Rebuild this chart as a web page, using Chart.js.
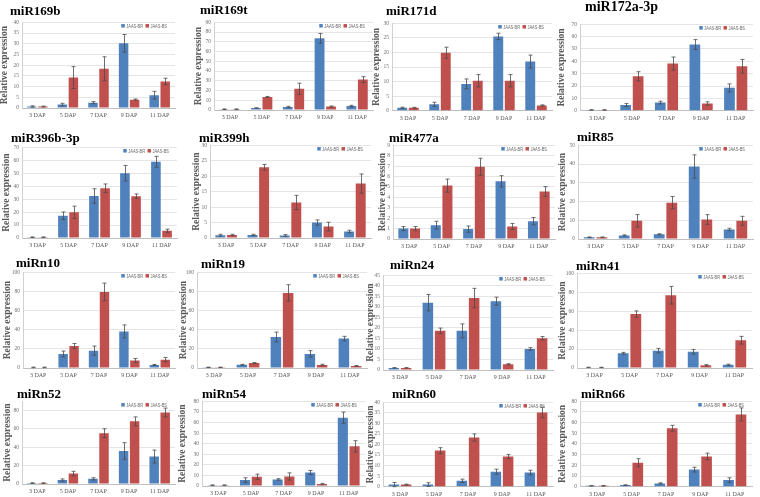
<!DOCTYPE html>
<html><head><meta charset="utf-8">
<script src="https://cdn.jsdelivr.net/npm/chart.js@4.4.1/dist/chart.umd.min.js"></script>
<style>
html,body{margin:0;padding:0;background:#fff;}
body{width:760px;height:497px;position:relative;overflow:hidden;}
canvas{position:absolute;}
.t{position:absolute;font-family:"Liberation Serif",serif;font-weight:bold;color:#000;white-space:nowrap;line-height:1;}
</style></head><body>
<script>
// ---- data ----
const categories = ['3 DAP', '5 DAP', '7 DAP', '9 DAP', '11 DAP'];
const seriesNames = ['JAAS-BR', 'JAAS-BS'];
const panelTitles = ['miR169b','miR169t','miR171d','miR172a-3p','miR396b-3p','miR399h','miR477a','miR85',
                     'miRn10','miRn19','miRn24','miRn41','miRn52','miRn54','miRn60','miRn66'];
const yMax  = [40, 90, 30, 70, 70, 30, 9, 50, 100, 100, 45, 100, 90, 80, 40, 80];
const yStep = [5, 10, 5, 10, 10, 5, 1, 5, 10, 10, 5, 10, 10, 10, 5, 10];

const br_miR169b = [0.7, 1.6, 2.5, 30.2, 6.0],   brErr_miR169b = [0.3, 0.6, 0.5, 4.1, 1.8];
const bs_miR169b = [0.7, 14.2, 18.3, 3.9, 12.4], bsErr_miR169b = [0.2, 5.1, 5.6, 0.3, 1.5];
const br_miR169t = [0.8, 2.0, 3.0, 73.6, 4.0],   brErr_miR169t = [0.3, 0.3, 0.8, 5.0, 0.8];
const bs_miR169t = [0.8, 13.4, 21.8, 3.5, 31.2], bsErr_miR169t = [0.3, 0.5, 5.7, 0.6, 3.0];
const br_miR171d = [1.0, 2.2, 9.2, 25.5, 16.9],  brErr_miR171d = [0.2, 0.7, 1.7, 1.1, 2.2];
const bs_miR171d = [1.0, 19.9, 10.3, 10.3, 1.8], bsErr_miR171d = [0.15, 1.9, 2.1, 2.1, 0.2];
const br_miR172a = [0.6, 4.6, 6.6, 53.6, 18.5],  brErr_miR172a = [0.2, 1.3, 1.1, 4.0, 3.2];
const bs_miR172a = [0.6, 27.9, 38.2, 5.8, 36.0], bsErr_miR172a = [0.2, 3.7, 5.3, 1.4, 5.5];
const br_miR396b = [0.6, 17.2, 32.4, 50.0, 58.8], brErr_miR396b = [0.2, 2.9, 5.6, 6.0, 4.2];
const bs_miR396b = [0.6, 19.8, 38.4, 32.3, 5.6],  bsErr_miR396b = [0.2, 4.8, 3.3, 1.7, 1.2];
const br_miR399h = [0.9, 1.0, 0.8, 5.0, 2.1],    brErr_miR399h = [0.3, 0.2, 0.3, 0.85, 0.4];
const bs_miR399h = [1.0, 22.9, 11.5, 3.7, 17.6], bsErr_miR399h = [0.2, 0.9, 2.3, 1.4, 3.1];
const br_miR477a = [1.0, 1.33, 0.95, 5.54, 1.71], brErr_miR477a = [0.2, 0.37, 0.3, 0.54, 0.35];
const bs_miR477a = [1.0, 5.13, 6.93, 1.2, 4.56],  bsErr_miR477a = [0.2, 0.63, 0.82, 0.29, 0.47];
const br_miR85 = [0.9, 1.9, 2.5, 38.7, 5.1],     brErr_miR85 = [0.2, 0.3, 0.3, 6.2, 0.6];
const bs_miR85 = [0.9, 9.7, 19.4, 10.4, 9.7],    bsErr_miR85 = [0.2, 3.3, 3.3, 2.6, 2.4];
const br_miRn10 = [0.6, 14.7, 18.1, 38.2, 3.2],  brErr_miRn10 = [0.3, 3.0, 4.8, 6.8, 0.5];
const bs_miRn10 = [0.6, 22.9, 79.5, 7.8, 8.7],   bsErr_miRn10 = [0.3, 2.7, 9.2, 2.2, 2.3];
const br_miRn19 = [0.7, 3.3, 32.4, 14.7, 30.7],  brErr_miRn19 = [0.2, 0.5, 5.1, 3.4, 2.4];
const bs_miRn19 = [0.7, 5.1, 78.5, 3.1, 2.1],    bsErr_miRn19 = [0.2, 0.6, 8.5, 0.8, 0.5];
const br_miRn24 = [1.0, 32.0, 18.6, 32.7, 10.0], brErr_miRn24 = [0.1, 3.9, 3.3, 1.9, 0.6];
const bs_miRn24 = [1.0, 18.6, 34.2, 2.7, 15.1],  bsErr_miRn24 = [0.1, 1.3, 4.6, 0.3, 0.8];
const br_miRn41 = [0.6, 15.5, 18.3, 17.2, 3.3],  brErr_miRn41 = [0.2, 1.0, 2.4, 2.4, 0.7];
const bs_miRn41 = [0.6, 56.9, 76.9, 2.8, 29.3],  bsErr_miRn41 = [0.2, 3.4, 9.3, 0.8, 4.1];
const br_miRn52 = [1.0, 4.3, 5.6, 36.0, 29.9],   brErr_miRn52 = [0.3, 1.2, 1.2, 9.0, 7.0];
const bs_miRn52 = [1.0, 11.3, 55.3, 68.2, 77.8], bsErr_miRn52 = [0.3, 2.5, 4.8, 4.8, 4.8];
const br_miRn54 = [0.8, 5.6, 6.2, 12.7, 64.5],   brErr_miRn54 = [0.2, 2.2, 0.7, 1.9, 5.3];
const bs_miRn54 = [0.8, 8.7, 9.0, 1.9, 37.5],    bsErr_miRn54 = [0.2, 2.5, 3.4, 0.6, 5.3];
const br_miRn60 = [1.0, 1.0, 2.8, 7.1, 6.7],     brErr_miRn60 = [1.0, 0.9, 0.8, 1.2, 1.1];
const bs_miRn60 = [1.0, 17.1, 23.3, 14.3, 35.2], bsErr_miRn60 = [0.2, 1.4, 1.7, 1.0, 2.5];
const br_miRn66 = [0.8, 1.5, 3.1, 16.0, 6.2],    brErr_miRn66 = [0.2, 0.3, 0.5, 2.2, 2.1];
const bs_miRn66 = [0.8, 22.5, 54.8, 28.3, 67.7], bsErr_miRn66 = [0.2, 3.7, 2.7, 3.1, 6.1];

const brSeries = [br_miR169b, br_miR169t, br_miR171d, br_miR172a, br_miR396b, br_miR399h, br_miR477a, br_miR85,
                  br_miRn10, br_miRn19, br_miRn24, br_miRn41, br_miRn52, br_miRn54, br_miRn60, br_miRn66];
const brErrors = [brErr_miR169b, brErr_miR169t, brErr_miR171d, brErr_miR172a, brErr_miR396b, brErr_miR399h, brErr_miR477a, brErr_miR85,
                  brErr_miRn10, brErr_miRn19, brErr_miRn24, brErr_miRn41, brErr_miRn52, brErr_miRn54, brErr_miRn60, brErr_miRn66];
const bsSeries = [bs_miR169b, bs_miR169t, bs_miR171d, bs_miR172a, bs_miR396b, bs_miR399h, bs_miR477a, bs_miR85,
                  bs_miRn10, bs_miRn19, bs_miRn24, bs_miRn41, bs_miRn52, bs_miRn54, bs_miRn60, bs_miRn66];
const bsErrors = [bsErr_miR169b, bsErr_miR169t, bsErr_miR171d, bsErr_miR172a, bsErr_miR396b, bsErr_miR399h, bsErr_miR477a, bsErr_miR85,
                  bsErr_miRn10, bsErr_miRn19, bsErr_miRn24, bsErr_miRn41, bsErr_miRn52, bsErr_miRn54, bsErr_miRn60, bsErr_miRn66];

// ---- layout (plot box L,T,R,B ; title x,y,size ; y-title centre x) ----
const layout = [
  [22, 21, 175, 108,   10, 10, 13,  5],
  [214, 21, 373, 110,  200, 9.5, 13, 199],
  [392, 22, 552, 110.7, 386, 10, 13, 377],
  [580, 22.7, 753, 110.7, 585, 7, 14, 562],
  [22, 146, 177, 238,  11, 137, 13, 7],
  [210, 144, 371, 238, 199, 137, 13, 197],
  [393, 144, 555, 239, 389, 137, 13, 383],
  [578, 144, 753, 239, 577, 136, 13, 563],
  [23, 271, 175, 368,  16, 262, 13, 8],
  [197, 271, 367, 368, 201, 263, 13, 184],
  [383, 274, 553, 370, 390, 264, 13, 371],
  [577, 271.7, 752, 368, 576, 265, 13, 563],
  [22, 400, 175, 484,  17, 393, 13, 8],
  [202, 400, 365, 486, 202, 393, 13, 183],
  [383, 401, 553, 486.7, 392, 393, 13, 371],
  [580, 400, 752, 486.7, 581, 393, 13, 563]
];
const seriesColors = ['#4f81bd', '#c0504d'];

const errorBarPlugin = {
  id: 'errbars',
  afterDatasetsDraw(chart) {
    const ctx = chart.ctx, ys = chart.scales.y;
    chart.data.datasets.forEach((ds, i) => {
      const meta = chart.getDatasetMeta(i);
      meta.data.forEach((bar, j) => {
        const v = ds.data[j], e = ds.errors[j];
        const yT = ys.getPixelForValue(v + e), yB = ys.getPixelForValue(Math.max(0, v - e));
        const x = Math.round(bar.x) + 0.5;
        ctx.save();
        ctx.strokeStyle = '#4a4a4a'; ctx.lineWidth = 0.8;
        ctx.beginPath();
        ctx.moveTo(x, yT); ctx.lineTo(x, yB);
        ctx.moveTo(x - 2, yT); ctx.lineTo(x + 2, yT);
        ctx.moveTo(x - 2, yB); ctx.lineTo(x + 2, yB);
        ctx.stroke();
        ctx.restore();
      });
    });
  }
};

const miniLegend = {
  id: 'miniLegend',
  afterDraw(chart) {
    const ctx = chart.ctx, a = chart.chartArea;
    const yc = a.top + 3.5, sx = 0.72, box = 3.5;
    ctx.save();
    ctx.font = '5.5px "Liberation Sans", Arial, sans-serif';
    const items = chart.data.datasets.map(d => ({ label: d.label, color: d.backgroundColor, w: ctx.measureText(d.label).width * sx }));
    let total = 0;
    items.forEach((it, k) => { total += box + 1.5 + it.w + (k ? 2.5 : 0); });
    let cx = a.right - 8 - total;
    items.forEach(it => {
      ctx.fillStyle = it.color;
      ctx.fillRect(cx, yc - box / 2, box, box);
      cx += box + 1.5;
      ctx.save();
      ctx.translate(cx, yc); ctx.scale(sx, 1);
      ctx.fillStyle = '#666'; ctx.textBaseline = 'middle';
      ctx.fillText(it.label, 0, 0.3);
      ctx.restore();
      cx += it.w + 2.5;
    });
    ctx.restore();
  }
};

const PT = 5, PR = 3, XH = 15, YTSIZE = 9.5;
layout.forEach((g, i) => {
  const [L, T, R, B, tx, ty, ts, yl] = g;
  const cl = Math.round(yl - YTSIZE * 1.2 / 2);
  const ct = Math.round(T - PT);
  const w = Math.round(R + PR) - cl;
  const h = Math.round(B + XH) - ct;
  const yw = L - cl, pt = T - ct, pr = (cl + w) - R, xh = (ct + h) - B;

  const cv = document.createElement('canvas');
  cv.width = w; cv.height = h;
  cv.style.left = cl + 'px'; cv.style.top = ct + 'px';
  cv.style.width = w + 'px'; cv.style.height = h + 'px';
  document.body.appendChild(cv);

  const t = document.createElement('div');
  t.className = 't';
  t.textContent = panelTitles[i];
  t.style.left = tx + 'px'; t.style.top = (ty - ts / 2) + 'px'; t.style.fontSize = ts + 'px';
  document.body.appendChild(t);

  new Chart(cv, {
    type: 'bar',
    data: {
      labels: categories,
      datasets: [
        { label: seriesNames[0], data: brSeries[i], errors: brErrors[i], backgroundColor: seriesColors[0], borderWidth: 0, categoryPercentage: 0.72, barPercentage: 0.86 },
        { label: seriesNames[1], data: bsSeries[i], errors: bsErrors[i], backgroundColor: seriesColors[1], borderWidth: 0, categoryPercentage: 0.72, barPercentage: 0.86 }
      ]
    },
    options: {
      responsive: false, animation: false, devicePixelRatio: 1,
      layout: { padding: { top: pt, right: pr, left: 0, bottom: 0 } },
      plugins: { legend: { display: false }, tooltip: { enabled: false }, title: { display: false } },
      scales: {
        x: {
          grid: { display: false, drawTicks: false },
          border: { display: true, color: '#bfbfbf', width: 1 },
          ticks: { font: { family: 'Liberation Serif', size: 6 }, color: '#595959', padding: 4, maxRotation: 0, autoSkip: false },
          afterFit: s => { s.height = xh; }
        },
        y: {
          min: 0, max: yMax[i],
          ticks: { stepSize: yStep[i], font: { family: 'Liberation Serif', size: 5.5 }, color: '#707070', padding: 3 },
          grid: { color: '#dedede', lineWidth: 0.8, drawTicks: false },
          border: { display: true, color: '#d0d0d0' },
          title: { display: true, text: 'Relative expression', font: { family: 'Liberation Serif', size: YTSIZE, weight: 'bold' }, color: '#5a5a5a', padding: 0 },
          afterFit: s => { s.width = yw; }
        }
      }
    },
    plugins: [errorBarPlugin, miniLegend]
  });
});
</script>
</body></html>
